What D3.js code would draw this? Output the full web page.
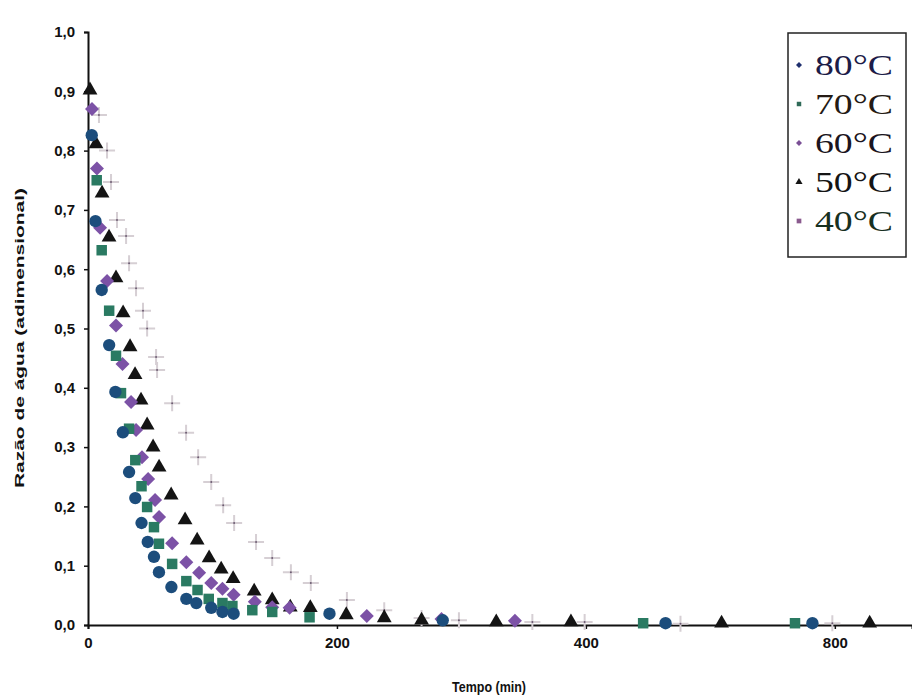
<!DOCTYPE html>
<html>
<head>
<meta charset="utf-8">
<script src="https://cdn.jsdelivr.net/npm/d3@7"></script>
<style>
  html, body { margin: 0; padding: 0; background: #fff; }
  svg { display: block; }
</style>
</head>
<body>
<svg id="chart" width="912" height="697"></svg>
<script>
// Drying curves: moisture ratio vs. time at five air temperatures
const seriesNames = ["80°C", "70°C", "60°C", "50°C", "40°C"];

const t80 = [3, 6, 11, 17, 22, 28, 33, 38, 43, 48, 53, 57, 67, 79, 87, 99, 108, 117, 194, 285, 464, 582];
const v80 = [0.826, 0.681, 0.565, 0.472, 0.393, 0.325, 0.258, 0.214, 0.172, 0.140, 0.115, 0.089, 0.064, 0.044, 0.037, 0.029, 0.022, 0.019, 0.019, 0.008, 0.003, 0.003];

const t70 = [7, 11, 17, 22.5, 26.5, 33, 38, 43, 47.5, 53, 57, 67.6, 79, 88, 97, 108, 116, 132, 148, 178, 446, 568];
const v70 = [0.750, 0.632, 0.530, 0.454, 0.391, 0.331, 0.278, 0.234, 0.199, 0.165, 0.137, 0.103, 0.074, 0.059, 0.044, 0.037, 0.032, 0.025, 0.022, 0.013, 0.003, 0.003];

const t60 = [3.2, 7.2, 9.7, 15.3, 22.5, 27.7, 34.6, 38.6, 43.4, 48.3, 53.9, 57.1, 67.6, 79, 89.3, 99, 108, 117, 134, 148, 162, 224, 284, 343];
const v60 = [0.870, 0.770, 0.670, 0.580, 0.505, 0.440, 0.376, 0.329, 0.283, 0.246, 0.211, 0.182, 0.138, 0.106, 0.088, 0.071, 0.061, 0.051, 0.039, 0.030, 0.029, 0.015, 0.010, 0.007];

const t50 = [1.6, 6.4, 11.3, 16.9, 22.5, 28.2, 33.8, 37.8, 42.6, 47.5, 52.3, 57.1, 66.8, 78, 87.7, 97.3, 107, 116.6, 133.5, 148, 162.5, 178.6, 207.5, 238, 268, 328, 388, 509, 628];
const v50 = [0.902, 0.811, 0.728, 0.654, 0.585, 0.526, 0.469, 0.422, 0.379, 0.337, 0.300, 0.266, 0.219, 0.177, 0.143, 0.113, 0.094, 0.078, 0.057, 0.042, 0.030, 0.029, 0.017, 0.012, 0.008, 0.005, 0.005, 0.003, 0.003];

const t40 = [8.8, 15.3, 18.5, 23.3, 30.6, 33, 38.6, 44.2, 47.5, 54.7, 55.5, 67.6, 78.8, 88.5, 99, 108.6, 117.4, 135, 148, 163, 179, 208, 238, 268, 298, 357, 399, 476, 598];
const v40 = [0.860, 0.800, 0.747, 0.683, 0.656, 0.610, 0.568, 0.530, 0.500, 0.452, 0.430, 0.374, 0.324, 0.283, 0.241, 0.202, 0.172, 0.140, 0.113, 0.089, 0.071, 0.042, 0.025, 0.012, 0.008, 0.005, 0.005, 0.002, 0.003];

const xTickValues = [0, 200, 400, 600];
const xTickLabels = ["0", "200", "400", "800"];
const yTickValues = [0, 0.1, 0.2, 0.3, 0.4, 0.5, 0.6, 0.7, 0.8, 0.9, 1.0];

const series = [
  { name: seriesNames[0], t: t80, v: v80, shape: "circle",   color: "#1c4d7c", legendColor: "#1f2f6e", textColor: "#1c1c48" },
  { name: seriesNames[1], t: t70, v: v70, shape: "square",   color: "#2a7a62", legendColor: "#2f6a58", textColor: "#241a14" },
  { name: seriesNames[2], t: t60, v: v60, shape: "diamond",  color: "#7c52a6", legendColor: "#7a4f95", textColor: "#1a1420" },
  { name: seriesNames[3], t: t50, v: v50, shape: "triangle", color: "#141414", legendColor: "#141414", textColor: "#141414" },
  { name: seriesNames[4], t: t40, v: v40, shape: "cross",    color: "#d6cfd4", legendColor: "#8a5a8e", textColor: "#17301f" }
];

const svg = d3.select("#chart");
const x = d3.scaleLinear().domain([0, 662]).range([88, 912]);
const y = d3.scaleLinear().domain([0, 1]).range([625, 32]);

const fmt = d3.format(".1f");
const sansFont = "Liberation Sans, Arial, sans-serif";

// Y axis
const yAxis = d3.axisLeft(y)
  .tickValues(yTickValues)
  .tickSize(4)
  .tickFormat(d => fmt(d).replace(".", ","));
const gy = svg.append("g").attr("transform", "translate(88,0)").call(yAxis);
gy.select(".domain").attr("stroke", "#111").attr("stroke-width", 2);
gy.selectAll(".tick line").attr("stroke", "#111").attr("stroke-width", 1.5);
gy.selectAll(".tick text")
  .attr("x", -13)
  .attr("font-family", sansFont)
  .attr("font-size", 15)
  .attr("font-weight", "bold")
  .attr("fill", "#111");

// X axis
const xAxis = d3.axisBottom(x)
  .tickValues(xTickValues)
  .tickSize(4)
  .tickFormat((d, i) => xTickLabels[i]);
const gx = svg.append("g").attr("transform", "translate(0,625)").call(xAxis);
gx.select(".domain").attr("stroke", "#111").attr("stroke-width", 2);
gx.selectAll(".tick line").attr("stroke", "#111").attr("stroke-width", 1.5);
gx.selectAll(".tick text")
  .attr("y", 12)
  .attr("font-family", sansFont)
  .attr("font-size", 15)
  .attr("font-weight", "bold")
  .attr("fill", "#111");

// Axis titles
svg.append("text")
  .attr("x", 489).attr("y", 692)
  .attr("text-anchor", "middle")
  .attr("font-family", sansFont)
  .attr("font-size", 14).attr("font-weight", "bold").attr("fill", "#111")
  .attr("textLength", 74).attr("lengthAdjust", "spacingAndGlyphs")
  .text("Tempo (min)");

svg.append("text")
  .attr("transform", "translate(24,338) rotate(-90)")
  .attr("text-anchor", "middle")
  .attr("font-family", sansFont)
  .attr("font-size", 13).attr("font-weight", "bold").attr("fill", "#111")
  .attr("textLength", 300).attr("lengthAdjust", "spacingAndGlyphs")
  .text("Razão de água (adimensional)");

// Marker shapes
const symbolFor = {
  circle: d3.symbol().type(d3.symbolCircle).size(120)(),
  square: d3.symbol().type(d3.symbolSquare).size(110)(),
  diamond: "M0,-7L7,0L0,7L-7,0Z",
  triangle: d3.symbol().type(d3.symbolTriangle).size(95)(),
  cross: "M-8,0H8M0,-8V8"
};

const plot = svg.append("g");
// draw slowest series first so the faster ones sit on top
[4, 3, 2, 1, 0].forEach(i => {
  const s = series[i];
  const pts = s.t.map((t, k) => ({ t: t, v: s.v[k] }));
  const g = plot.append("g");
  const marks = g.selectAll("path").data(pts).enter().append("path")
    .attr("transform", d => `translate(${x(d.t)},${y(d.v)})`)
    .attr("d", symbolFor[s.shape]);
  if (s.shape === "cross") {
    marks.attr("fill", "none").attr("stroke", s.color).attr("stroke-width", 2);
    g.selectAll("circle").data(pts).enter().append("circle")
      .attr("cx", d => x(d.t)).attr("cy", d => y(d.v)).attr("r", 1)
      .attr("fill", "#6a5a70");
  } else {
    marks.attr("fill", s.color);
  }
});

// Legend
const legend = svg.append("g");
legend.append("rect")
  .attr("x", 788).attr("y", 33).attr("width", 118).attr("height", 224)
  .attr("fill", "#fff").attr("stroke", "#222").attr("stroke-width", 1.5);

const legendSymbol = {
  circle: "M0,-3L3,0L0,3L-3,0Z",
  square: d3.symbol().type(d3.symbolSquare).size(20)(),
  diamond: "M0,-3L3,0L0,3L-3,0Z",
  triangle: d3.symbol().type(d3.symbolTriangle).size(22)(),
  cross: d3.symbol().type(d3.symbolSquare).size(22)()
};

series.forEach((s, i) => {
  const cy = 65 + i * 39;
  legend.append("path")
    .attr("transform", `translate(799,${cy})`)
    .attr("d", legendSymbol[s.shape])
    .attr("fill", s.legendColor);
  legend.append("text")
    .attr("x", 815).attr("y", cy + 10)
    .attr("font-family", "Liberation Serif, Times New Roman, serif")
    .attr("font-size", 29)
    .attr("fill", s.textColor)
    .attr("textLength", 78).attr("lengthAdjust", "spacingAndGlyphs")
    .text(s.name);
});
</script>
</body>
</html>
